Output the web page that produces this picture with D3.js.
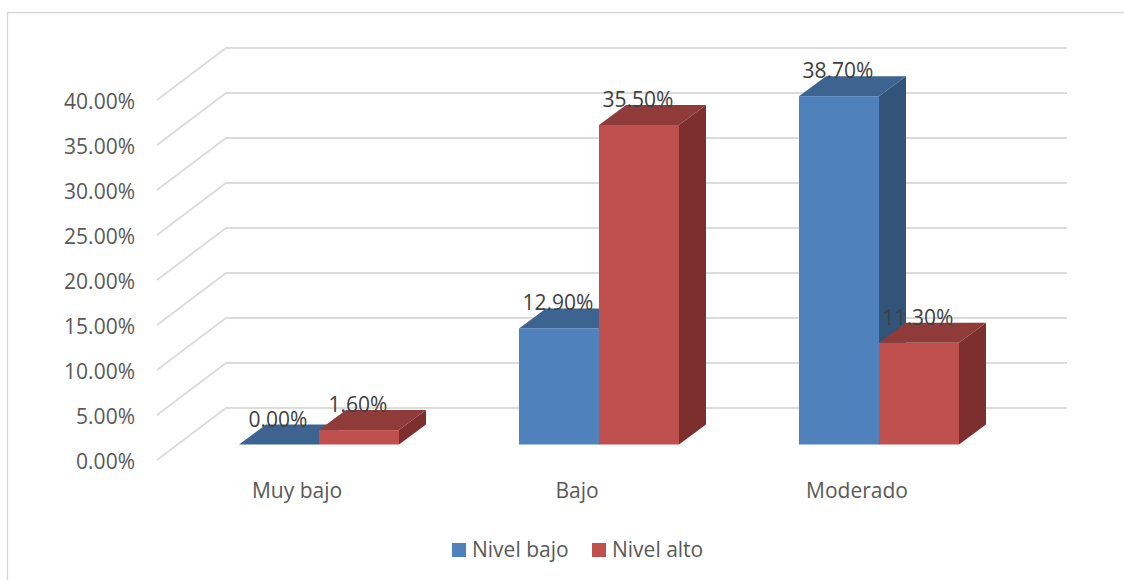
<!DOCTYPE html>
<html><head><meta charset="utf-8">
<script src="https://cdn.jsdelivr.net/npm/d3@7"></script>
<style>html,body{margin:0;padding:0;background:#fff;overflow:hidden}svg{display:block}text{font-family:"Open Sans",sans-serif}</style>
</head><body><svg id="c" width="1124" height="580"></svg>
<script>
const categories = ["Muy bajo", "Bajo", "Moderado"];
const seriesNames = ["Nivel bajo", "Nivel alto"];
const nivelBajo = [0, 12.9, 38.7];
const nivelAlto = [1.6, 35.5, 11.3];
const yTicks = [0, 5, 10, 15, 20, 25, 30, 35, 40];
const frontColors = ["#4f81bd", "#c0504d"];
const topColors = ["#3d6491", "#8f3b39"];
const sideColors = ["#325479", "#7c2f2d"];

const svg = d3.select("#c");
const depthX = 27, depthY = 20;
const x0 = d3.scaleBand().domain(categories).range([179, 1019]);
const x1 = d3.scaleBand().domain(seriesNames).range([60, 220]);
const yBar = d3.scaleLinear().domain([0, 40]).range([444.5, 84.5]);
const yFront = d3.scaleLinear().domain([0, 40]).range([460, 100]);
const yBack = d3.scaleLinear().domain([0, 40]).range([408, 48]);
const xFrontEdge = 157, xBack = 226, xRight = 1067;

// chart frame
svg.append("path").attr("d", "M1124 12.5H7.5V580").attr("fill", "none").attr("stroke", "#d9d9d9").attr("stroke-width", 1.4);

// gridlines
svg.append("g").selectAll("path").data(yTicks).join("path")
  .attr("d", d => `M${xFrontEdge} ${yFront(d)}L${xBack} ${yBack(d)}H${xRight}`)
  .attr("fill", "none").attr("stroke", "#dcdcdc").attr("stroke-width", 2);

// y axis labels
const yAxis = d3.axisLeft(yFront).tickValues(yTicks).tickSize(0).tickPadding(0)
  .tickFormat(d => d3.format(".2f")(d) + "%");
const gy = svg.append("g").attr("transform", "translate(135,2)").call(yAxis);
gy.select(".domain").remove();
gy.selectAll("text").attr("font-size", 21).attr("fill", "#595959").style("font-family", '"Open Sans",sans-serif');

// x axis labels
const xAxis = d3.axisBottom(x0).tickSize(0).tickPadding(0);
const gx = svg.append("g").attr("transform", "translate(-22,483)").call(xAxis);
gx.select(".domain").remove();
gx.selectAll("text").attr("font-size", 21).attr("fill", "#595959").style("font-family", '"Open Sans",sans-serif');

// bars
const rows = [];
seriesNames.forEach((s, si) => {
  const vals = si === 0 ? nivelBajo : nivelAlto;
  categories.forEach((c, ci) => rows.push({s, si, c, v: vals[ci]}));
});
const bars = svg.append("g").selectAll("g").data(rows).join("g");
const L = d => x0(d.c) + x1(d.s), W = x1.bandwidth();
bars.append("path").attr("fill", d => sideColors[d.si])
  .attr("d", d => { const r = L(d) + W, t = yBar(d.v), b = yBar(0);
    return `M${r} ${b}V${t}l${depthX} ${-depthY}V${b - depthY}Z`; });
bars.append("path").attr("fill", d => topColors[d.si])
  .attr("d", d => { const l = L(d), t = yBar(d.v);
    return `M${l} ${t}h${W}l${depthX} ${-depthY}h${-W}Z`; });
bars.append("rect").attr("fill", d => frontColors[d.si])
  .attr("x", d => L(d)).attr("width", W)
  .attr("y", d => yBar(d.v)).attr("height", d => yBar(0) - yBar(d.v));

// data labels
svg.append("g").selectAll("text").data(rows).join("text")
  .attr("x", d => L(d) + W / 2 - 1).attr("y", d => yBar(d.v) - 18)
  .attr("text-anchor", "middle").attr("font-size", 21).attr("fill", "#404040")
  .text(d => d3.format(".2f")(d.v) + "%");

// legend
const lx = d3.scaleOrdinal().domain(seriesNames).range([452, 592]);
const lg = svg.append("g").selectAll("g").data(seriesNames).join("g")
  .attr("transform", d => `translate(${lx(d)},543)`);
lg.append("rect").attr("width", 14).attr("height", 14).attr("fill", (d, i) => frontColors[i]);
lg.append("text").attr("x", 20).attr("y", 14).attr("font-size", 21).attr("fill", "#595959").text(d => d);
</script></body></html>
